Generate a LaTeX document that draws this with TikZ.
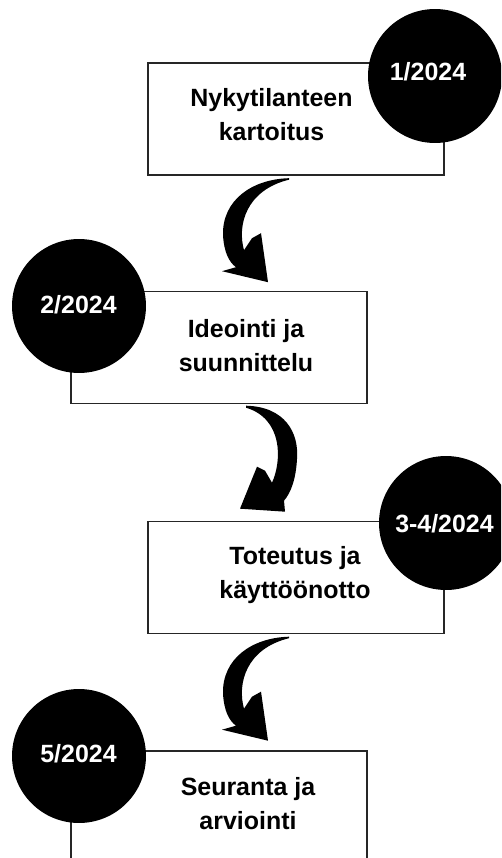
\documentclass[tikz,border=0pt]{standalone}
\usepackage{fontspec}
\setmainfont{Liberation Sans}
\usetikzlibrary{calc}
\begin{document}
\begin{tikzpicture}[x=0.02cm,y=-0.02cm,
  stage/.style={draw=black!85,line width=0.8pt,fill=white,minimum width=5.92cm,minimum height=2.24cm,inner sep=0},
  datedot/.style={circle,fill=black,minimum size=2.68cm,inner sep=0},
  stagetext/.style={font=\fontsize{14.2}{19.35}\selectfont\bfseries,align=center,inner sep=0,text=black},
  datetext/.style={font=\fontsize{14.2}{17}\selectfont\bfseries,text=white,inner sep=0,anchor=base},
  % brush arrow bending left, then down to the right
  curlL/.pic={
    \fill[black] (0,0) .. controls (-37,1) and (-67,22) .. (-66,57)
      .. controls (-65,74) and (-60,84) .. (-53,89) -- (-67,93) -- (-21,104)
      -- (-28,55) -- (-37,60) -- (-45,72)
      .. controls (-52,47) and (-43,12) .. (0,1.5) -- cycle;
  },
  % brush arrow bending right, then down to the left
  curlR/.pic={
    \fill[black] (0,0) .. controls (39,1) and (53,27) .. (51,53)
      .. controls (50,73) and (45,87) .. (38,95) -- (39,106) -- (-6,103)
      -- (11,61) -- (19,65) -- (26,77)
      .. controls (36,55) and (37,13) .. (0,2) -- cycle;
  }]
\clip (0,0) rectangle (501,858);
\fill[white] (0,0) rectangle (501,858);

% stage boxes
\node[stage] (s1) at (296,119) {};
\node[stage] (s2) at (219,347.5) {};
\node[stage] (s3) at (296,577.5) {};
\node[stage] (s4) at (219,807) {};

% date discs
\node[datedot] (d1) at (435,76) {};
\node[datedot] (d2) at (79,306) {};
\node[datedot] (d3) at (446,523) {};
\node[datedot] (d4) at (79,756) {};

% stage labels
\node[stagetext] (t1) at (271.5,114.4) {Nykytilanteen\\kartoitus};
\node[stagetext] (t2) at (246,345.4) {Ideointi ja\\suunnittelu};
\node[stagetext] (t3) at (295,574.6) {Toteutus ja\\käyttöönotto};
\node[stagetext] (t4) at (248,803.3) {Seuranta ja\\arviointi};

% date labels
\node[datetext] (l1) at (428,81) {1/2024};
\node[datetext] (l2) at (78.5,313) {2/2024};
\node[datetext] (l3) at (444.5,532) {3-4/2024};
\node[datetext] (l4) at (78.5,762) {5/2024};

% arrows between stages
\pic at ($(s1.south)+(-7,2.5)$) {curlL};
\pic at ($(s2.south)+(27,1.5)$) {curlR};
\pic at ($(s3.south)+(-7,2.5)$) {curlL};
\end{tikzpicture}
\end{document}
